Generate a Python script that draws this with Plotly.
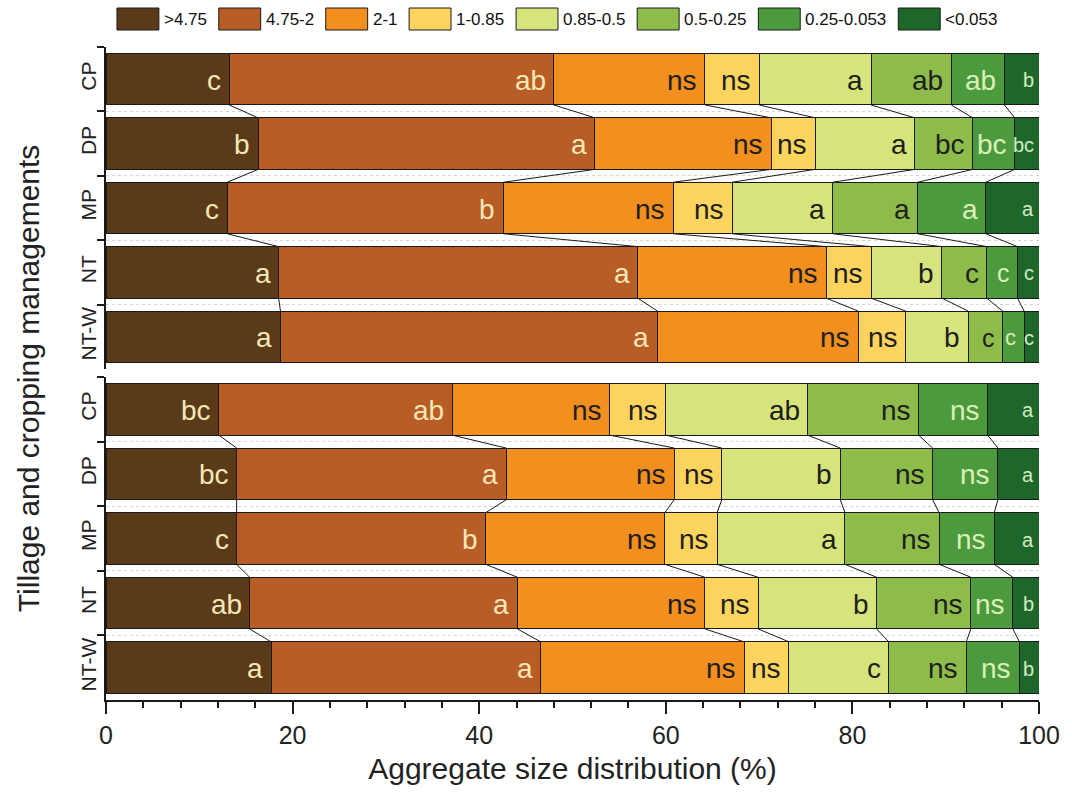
import numpy as np
import plotly.graph_objects as go

# ---------------- data ----------------
categories = ["CP", "DP", "MP", "NT", "NT-W"]
classes = [">4.75", "4.75-2", "2-1", "1-0.85", "0.85-0.5", "0.5-0.25", "0.25-0.053", "<0.053"]

# upper panel (%), one row per treatment, one column per size class
top_cp = [13.2, 34.8, 16.2, 5.8, 12.0, 8.6, 5.7, 3.7]
top_dp = [16.3, 36.1, 18.9, 4.7, 10.7, 6.2, 4.5, 2.6]
top_mp = [13.0, 29.6, 18.2, 6.3, 10.8, 9.1, 7.3, 5.7]
top_nt = [18.5, 38.5, 20.2, 4.8, 7.6, 4.8, 3.3, 2.3]
top_ntw = [18.7, 40.4, 21.5, 5.1, 6.7, 3.7, 2.3, 1.6]

# lower panel (%)
bot_cp = [12.1, 25.0, 16.9, 6.0, 15.2, 11.9, 7.4, 5.5]
bot_dp = [14.0, 28.9, 18.0, 5.1, 12.7, 9.9, 7.0, 4.4]
bot_mp = [14.0, 26.7, 19.2, 5.6, 13.7, 10.1, 5.9, 4.8]
bot_nt = [15.4, 28.7, 20.1, 5.7, 12.7, 10.1, 4.5, 2.8]
bot_ntw = [17.7, 28.9, 21.8, 4.8, 10.7, 8.3, 5.7, 2.1]

# significance letters
top_let_cp = ["c", "ab", "ns", "ns", "a", "ab", "ab", "b"]
top_let_dp = ["b", "a", "ns", "ns", "a", "bc", "bc", "bc"]
top_let_mp = ["c", "b", "ns", "ns", "a", "a", "a", "a"]
top_let_nt = ["a", "a", "ns", "ns", "b", "c", "c", "c"]
top_let_ntw = ["a", "a", "ns", "ns", "b", "c", "c", "c"]

bot_let_cp = ["bc", "ab", "ns", "ns", "ab", "ns", "ns", "a"]
bot_let_dp = ["bc", "a", "ns", "ns", "b", "ns", "ns", "a"]
bot_let_mp = ["c", "b", "ns", "ns", "a", "ns", "ns", "a"]
bot_let_nt = ["ab", "a", "ns", "ns", "b", "ns", "ns", "b"]
bot_let_ntw = ["a", "a", "ns", "ns", "c", "ns", "ns", "b"]

x_ticks = [0, 20, 40, 60, 80, 100]

# ---------------- styles ----------------
colors = ["#5a3a18", "#b85d26", "#f28f1f", "#fdd55e", "#d7e47b", "#8dbc4a", "#4b9a3d", "#1d672b"]
text_colors = ["#f4e7b6", "#f4e7b6", "#1e1e1e", "#1e1e1e", "#1e1e1e", "#1e1e1e", "#dcefb8", "#d4ebc4"]
FONT = "Liberation Sans, Arial, sans-serif"
LINE = "#1a1a1a"

panels = [
    ([top_cp, top_dp, top_mp, top_nt, top_ntw],
     [top_let_cp, top_let_dp, top_let_mp, top_let_nt, top_let_ntw], "x", "y", "y3"),
    ([bot_cp, bot_dp, bot_mp, bot_nt, bot_ntw],
     [bot_let_cp, bot_let_dp, bot_let_mp, bot_let_nt, bot_let_ntw], "x2", "y2", "y4"),
]

fig = go.Figure()
bar_half = 0.4  # bargap 0.2 -> bar occupies 0.8 of a category

for p, (rows, letters, xa, ya, yov) in enumerate(panels):
    arr = np.array(rows)
    cum = np.minimum(np.round(arr.cumsum(axis=1), 6), 100.0)
    for j, cls in enumerate(classes):
        fig.add_trace(go.Bar(
            x=arr[:, j], y=categories, orientation="h", name=cls,
            marker=dict(color=colors[j], line=dict(color=LINE, width=1)),
            xaxis=xa, yaxis=ya, showlegend=False, hoverinfo="x+y+name",
        ))
    # connector lines between neighbouring bars
    for j in range(len(classes) - 1):
        xs, ys = [], []
        for i in range(len(categories) - 1):
            xs += [cum[i, j], cum[i + 1, j], None]
            ys += [i + bar_half, i + 1 - bar_half, None]
        fig.add_trace(go.Scatter(
            x=xs, y=ys, mode="lines", line=dict(color=LINE, width=1),
            xaxis=xa, yaxis=yov, showlegend=False, hoverinfo="skip",
        ))
    # letters
    for i, cat in enumerate(categories):
        for j in range(len(classes)):
            w = arr[i, j]
            if j == len(classes) - 1:
                size = 20
            elif w < 3:
                size = 22
            elif w < 4:
                size = 25
            else:
                size = 28
            fig.add_annotation(
                x=cum[i, j], y=cat, xref=xa, yref=ya, text=letters[i][j],
                showarrow=False, xanchor="right", xshift=-6 if j < 7 else -3, yshift=-1,
                font=dict(family=FONT, size=size, color=text_colors[j]),
            )

# ---------------- manual legend ----------------
def text_w(s, size=17):
    widths = {".": 0.278, "-": 0.333, ">": 0.584, "<": 0.584}
    return sum(widths.get(c, 0.556) for c in s) * size

L, R, T, B = 106, 31, 47, 103
PW, PH = 1072 - L - R, 803 - T - B
px = 117
for j, cls in enumerate(classes):
    x0 = (px - L) / PW
    x1 = (px + 42 - L) / PW
    fig.add_shape(type="rect", xref="paper", yref="paper",
                  x0=x0, x1=x1, y0=(T + PH - 30) / PH, y1=(T + PH - 8) / PH,
                  fillcolor=colors[j], line=dict(color=LINE, width=1))
    fig.add_annotation(xref="paper", yref="paper", x=(px + 45 - L) / PW, y=(T + PH - 19) / PH,
                       text=cls, showarrow=False, xanchor="left", yanchor="middle",
                       font=dict(family=FONT, size=17, color="#111"))
    px += 42 + 5 + text_w(cls) + 12

# y axis title
fig.add_annotation(xref="paper", yref="paper", x=(28 - L) / PW, y=(T + PH - 378) / PH,
                   text="Tillage and cropping managements", textangle=-90, showarrow=False,
                   xanchor="center", yanchor="middle",
                   font=dict(family=FONT, size=30, color="#222"))

top_dom = [(T + PH - 369) / PH, 1.0]
bot_dom = [0.0, (T + PH - 377) / PH]

yax_common = dict(
    type="category", categoryorder="array", categoryarray=categories,
    range=[len(categories) - 0.5, -0.5], tickson="boundaries",
    ticks="outside", ticklen=7, tickcolor=LINE, tickwidth=1.5,
    showline=True, linecolor=LINE, linewidth=1.5,
    showgrid=True, gridcolor="#d4d4d4", griddash="dot", gridwidth=1,
    tickangle=-90, tickfont=dict(family=FONT, size=21, color="#222"),
    zeroline=False,
)
ov_common = dict(range=[len(categories) - 0.5, -0.5], visible=False, showgrid=False, zeroline=False)

fig.update_layout(
    width=1072, height=803,
    margin=dict(l=L, r=R, t=T, b=B),
    paper_bgcolor="white", plot_bgcolor="white",
    barmode="stack", bargap=0.2,
    showlegend=False,
    font=dict(family=FONT, color="#222"),
    xaxis=dict(domain=[0, 1], anchor="y", range=[0, 100], showticklabels=False, showline=False,
               ticks="", showgrid=False, zeroline=False, matches="x2"),
    xaxis2=dict(domain=[0, 1], anchor="y2", range=[0, 100], tickvals=x_ticks,
                ticks="outside", ticklen=12, tickwidth=2, tickcolor=LINE,
                minor=dict(dtick=4, tick0=0, ticks="outside", ticklen=6, tickwidth=2, tickcolor=LINE, showgrid=False),
                showline=True, linecolor=LINE, linewidth=1.5, showgrid=False, zeroline=False,
                tickfont=dict(family=FONT, size=25, color="#222"),
                title=dict(text="Aggregate size distribution (%)", standoff=10,
                           font=dict(family=FONT, size=30, color="#222"))),
    yaxis=dict(domain=top_dom, anchor="x", **yax_common),
    yaxis2=dict(domain=bot_dom, anchor="x2", **yax_common),
    yaxis3=dict(overlaying="y", anchor="x", **ov_common),
    yaxis4=dict(overlaying="y2", anchor="x2", **ov_common),
)

fig.write_html("out.html")
